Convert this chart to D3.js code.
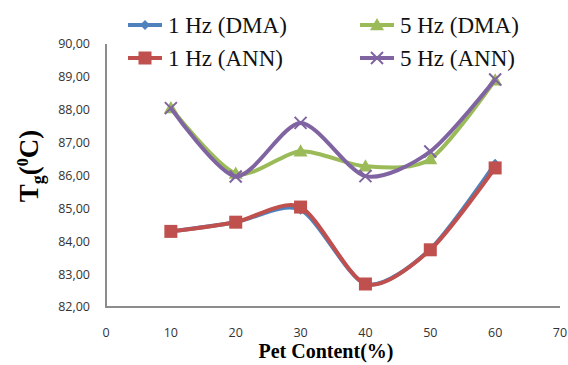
<!DOCTYPE html>
<html>
<head>
<meta charset="utf-8">
<script src="https://cdn.jsdelivr.net/npm/d3@7"></script>
<style>
  body { margin: 0; background: #fff; }
  svg { display: block; }
</style>
</head>
<body>
<script>
// 数据
const pet = [10, 20, 30, 40, 50, 60];
const hz1_dma = [84.3, 84.58, 84.96, 82.7, 83.76, 86.36];
const hz1_ann = [84.3, 84.58, 85.04, 82.7, 83.74, 86.23];
const hz5_dma = [88.05, 86.06, 86.74, 86.28, 86.5, 88.9];
const hz5_ann = [88.05, 85.97, 87.6, 85.98, 86.73, 88.92];
const x_ticks = [0, 10, 20, 30, 40, 50, 60, 70];
const y_ticks = [82, 83, 84, 85, 86, 87, 88, 89, 90];

const series = [
    { name: '1 Hz (DMA)', values: hz1_dma, color: '#4F81BD', marker: 'diamond' },
    { name: '1 Hz (ANN)', values: hz1_ann, color: '#C0504D', marker: 'square' },
    { name: '5 Hz (DMA)', values: hz5_dma, color: '#9BBB59', marker: 'triangle' },
    { name: '5 Hz (ANN)', values: hz5_ann, color: '#8064A2', marker: 'cross' }
];

const width = 568;
const height = 365;
const plot = { left: 106, right: 560, top: 44, bottom: 307 };

const svg = d3.select('body').append('svg')
    .attr('width', width)
    .attr('height', height);

const x = d3.scaleLinear().domain([0, 70]).range([plot.left, plot.right]);
const y = d3.scaleLinear().domain([82, 90]).range([plot.bottom, plot.top]);

// 坐标轴线
svg.append('path')
    .attr('d', `M${plot.left},${plot.top}V${plot.bottom}H${plot.right}`)
    .attr('fill', 'none')
    .attr('stroke', '#8c8c8c')
    .attr('stroke-width', 2);

// 刻度标签
const fmt = v => v.toFixed(2).replace('.', ',');
svg.append('g').selectAll('text')
    .data(y_ticks).enter().append('text')
    .attr('x', plot.left - 16)
    .attr('y', d => y(d))
    .attr('dy', '0.35em')
    .attr('text-anchor', 'end')
    .attr('font-family', 'Open Sans, Liberation Sans, sans-serif')
    .attr('font-size', 12.5)
    .attr('fill', '#333')
    .text(fmt);

svg.append('g').selectAll('text')
    .data(x_ticks).enter().append('text')
    .attr('x', d => x(d))
    .attr('y', 337)
    .attr('text-anchor', 'middle')
    .attr('font-family', 'Open Sans, Liberation Sans, sans-serif')
    .attr('font-size', 12.5)
    .attr('fill', '#333')
    .text(d => d);

// 轴标题
svg.append('text')
    .attr('x', 326)
    .attr('y', 358)
    .attr('text-anchor', 'middle')
    .attr('font-family', 'Liberation Serif, serif')
    .attr('font-weight', 'bold')
    .attr('font-size', 20)
    .text('Pet Content(%)');

const ytitle = svg.append('text')
    .attr('transform', 'translate(38,166) rotate(-90)')
    .attr('text-anchor', 'middle')
    .attr('font-family', 'Liberation Serif, serif')
    .attr('font-weight', 'bold')
    .attr('font-size', 27);
ytitle.append('tspan').text('T');
ytitle.append('tspan').attr('font-size', 18).attr('dy', 6).text('g');
ytitle.append('tspan').attr('dy', -6).text('(');
ytitle.append('tspan').attr('font-size', 16).attr('dy', -10).text('0');
ytitle.append('tspan').attr('dy', 10).text('C)');

// 标记形状
function draw_marker(g, type, color, cx, cy, scale = 1) {
    if (type === 'diamond') {
        const s = 5 * scale;
        g.append('path')
            .attr('d', `M${cx},${cy - s}L${cx + s},${cy}L${cx},${cy + s}L${cx - s},${cy}Z`)
            .attr('fill', color);
    } else if (type === 'square') {
        const s = 6.5 * scale;
        g.append('rect')
            .attr('x', cx - s).attr('y', cy - s)
            .attr('width', 2 * s).attr('height', 2 * s)
            .attr('fill', color);
    } else if (type === 'triangle') {
        const s = 7 * scale;
        g.append('path')
            .attr('d', `M${cx},${cy - s}L${cx + s},${cy + s * 0.75}L${cx - s},${cy + s * 0.75}Z`)
            .attr('fill', color);
    } else {
        const s = 6 * scale;
        g.append('path')
            .attr('d', `M${cx - s},${cy - s}L${cx + s},${cy + s}M${cx + s},${cy - s}L${cx - s},${cy + s}`)
            .attr('stroke', color)
            .attr('stroke-width', 2);
    }
}

// 平滑曲线
const line = d3.line()
    .x((d, i) => x(pet[i]))
    .y(d => y(d))
    .curve(d3.curveCardinal.tension(0.2));

for (const s of series) {
    const g = svg.append('g');
    g.append('path')
        .attr('d', line(s.values))
        .attr('fill', 'none')
        .attr('stroke', s.color)
        .attr('stroke-width', 4);
    s.values.forEach((v, i) => draw_marker(g, s.marker, s.color, x(pet[i]), y(v)));
}

// 图例
const legend_pos = [[128, 25], [128, 58], [360, 25], [360, 58]];
series.forEach((s, i) => {
    const [lx, ly] = legend_pos[i];
    const g = svg.append('g');
    g.append('line')
        .attr('x1', lx).attr('x2', lx + 34)
        .attr('y1', ly).attr('y2', ly)
        .attr('stroke', s.color)
        .attr('stroke-width', 4);
    draw_marker(g, s.marker, s.color, lx + 17, ly, 1);
    g.append('text')
        .attr('x', lx + 40)
        .attr('y', ly)
        .attr('dy', '0.33em')
        .attr('font-family', 'Liberation Serif, serif')
        .attr('font-size', 23)
        .attr('fill', '#111')
        .text(s.name);
});
</script>
</body>
</html>
